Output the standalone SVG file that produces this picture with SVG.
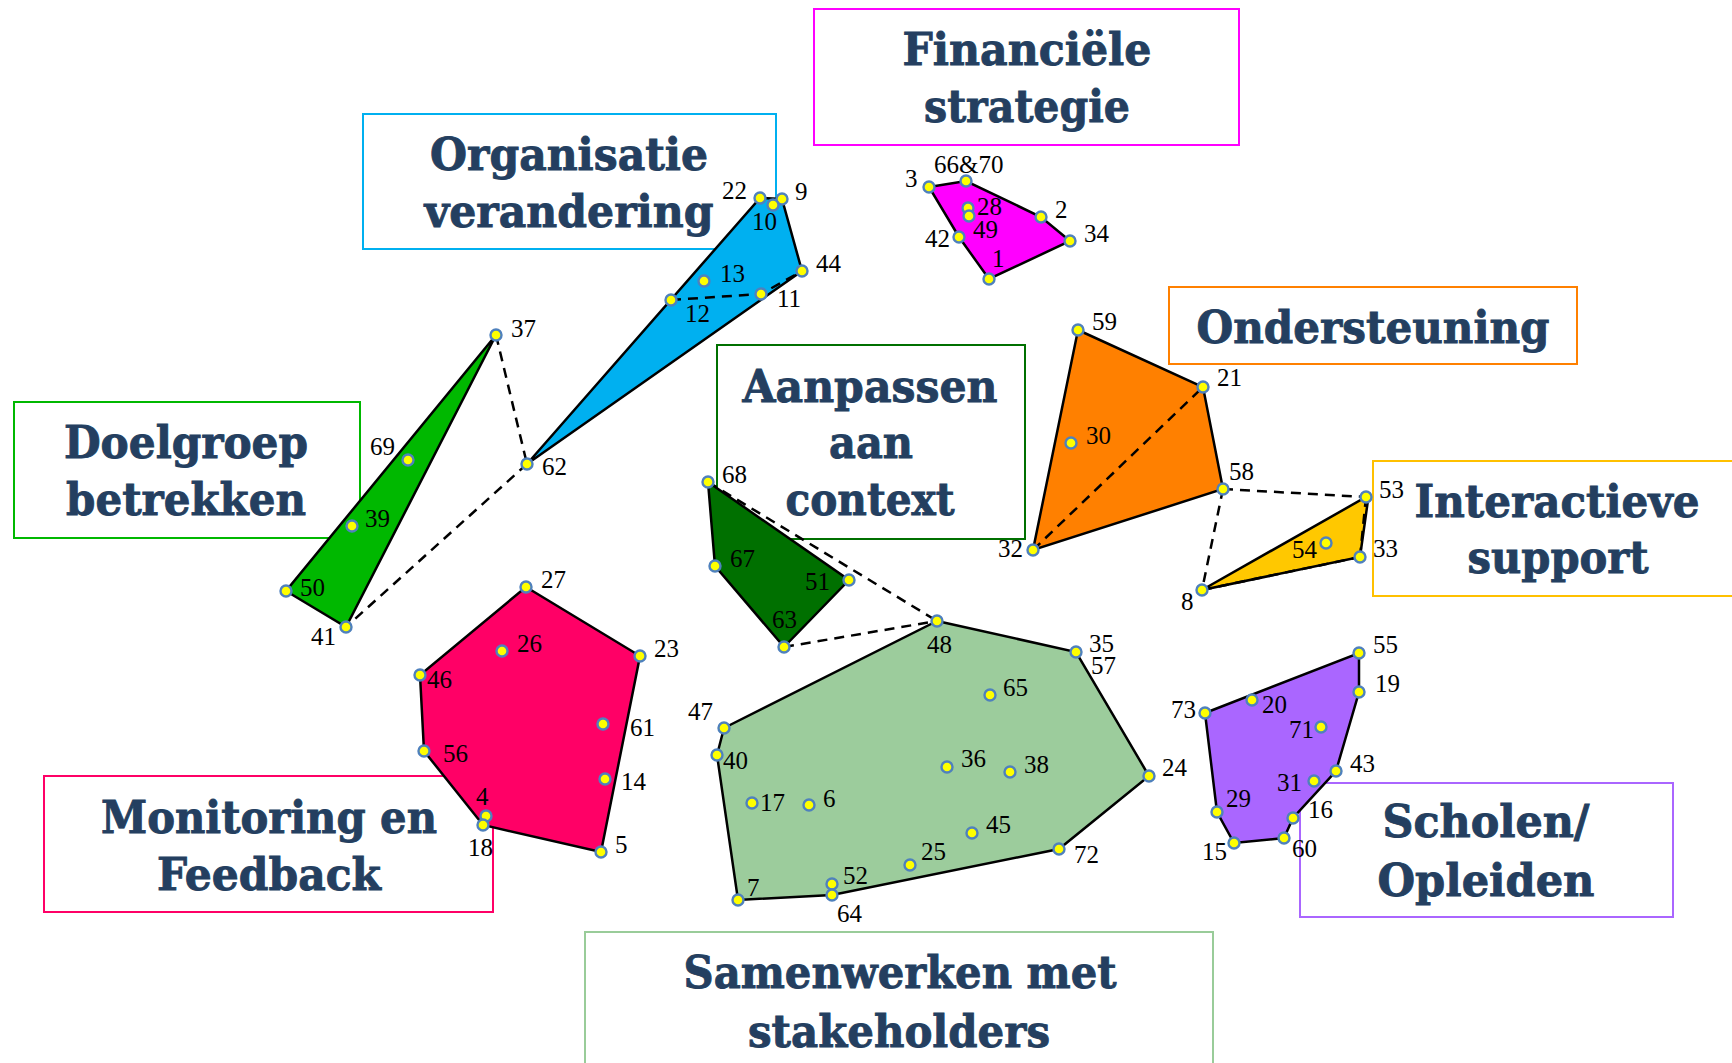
<svg xmlns="http://www.w3.org/2000/svg" width="1732" height="1063" viewBox="0 0 1732 1063">
<style>
.box{fill:#fff;stroke-width:2}
.t{font-family:"DejaVu Serif",serif;font-weight:bold;font-size:44px;fill:#243F60;stroke:#243F60;stroke-width:0.9;text-anchor:middle}
.poly{stroke:#000;stroke-width:2.5;stroke-linejoin:miter}
.dash{stroke:#000;stroke-width:2.5;stroke-dasharray:10 7;fill:none}
.p{fill:#FFFF00;stroke:#4F81BD;stroke-width:2.4}
.n{font-family:"Liberation Serif","Times New Roman",serif;font-size:25px;fill:#000}
</style>
<rect width="1732" height="1063" fill="#fff"/>
<g id="box-organisatie"><rect class="box" x="363" y="114" width="413" height="135" stroke="#00B0F0"/><text class="t" x="569" y="170" textLength="278" lengthAdjust="spacingAndGlyphs">Organisatie</text><text class="t" x="569" y="227" textLength="289" lengthAdjust="spacingAndGlyphs">verandering</text></g>
<g id="box-financiele"><rect class="box" x="814" y="9" width="425" height="136" stroke="#FF00FF"/><text class="t" x="1027" y="65" textLength="249" lengthAdjust="spacingAndGlyphs">Financiële</text><text class="t" x="1027" y="122" textLength="206" lengthAdjust="spacingAndGlyphs">strategie</text></g>
<g id="box-doelgroep"><rect class="box" x="14" y="402" width="346" height="136" stroke="#00B800"/><text class="t" x="186" y="458" textLength="244" lengthAdjust="spacingAndGlyphs">Doelgroep</text><text class="t" x="186" y="515" textLength="240" lengthAdjust="spacingAndGlyphs">betrekken</text></g>
<g id="box-aanpassen"><rect class="box" x="717" y="345" width="308" height="194" stroke="#007000"/><text class="t" x="870" y="402" textLength="255" lengthAdjust="spacingAndGlyphs">Aanpassen</text><text class="t" x="871" y="458" textLength="84" lengthAdjust="spacingAndGlyphs">aan</text><text class="t" x="870" y="515" textLength="169" lengthAdjust="spacingAndGlyphs">context</text></g>
<g id="box-ondersteuning"><rect class="box" x="1169" y="287" width="408" height="77" stroke="#FF8000"/><text class="t" x="1373" y="343" textLength="353" lengthAdjust="spacingAndGlyphs">Ondersteuning</text></g>
<g id="box-interactieve"><rect class="box" x="1373" y="461" width="370" height="135" stroke="#FFC000"/><text class="t" x="1557" y="517" textLength="285" lengthAdjust="spacingAndGlyphs">Interactieve</text><text class="t" x="1558" y="573" textLength="181" lengthAdjust="spacingAndGlyphs">support</text></g>
<g id="box-monitoring"><rect class="box" x="44" y="776" width="449" height="136" stroke="#FF0066"/><text class="t" x="269" y="833" textLength="336" lengthAdjust="spacingAndGlyphs">Monitoring en</text><text class="t" x="269" y="890" textLength="224" lengthAdjust="spacingAndGlyphs">Feedback</text></g>
<g id="box-scholen"><rect class="box" x="1300" y="783" width="373" height="134" stroke="#AA66FF"/><text class="t" x="1486" y="837" textLength="207" lengthAdjust="spacingAndGlyphs">Scholen/</text><text class="t" x="1486" y="896" textLength="217" lengthAdjust="spacingAndGlyphs">Opleiden</text></g>
<g id="box-samenwerken"><rect class="box" x="585" y="932" width="628" height="140" stroke="#99CC99"/><text class="t" x="900" y="988" textLength="433" lengthAdjust="spacingAndGlyphs">Samenwerken met</text><text class="t" x="899" y="1047" textLength="302" lengthAdjust="spacingAndGlyphs">stakeholders</text></g>

<g id="cluster-blue"><polygon class="poly" fill="#00B0F0" points="527,464 760,198 782,199 802,271"/></g>
<g id="cluster-green"><polygon class="poly" fill="#00B800" points="496,335 346,627 286,591"/></g>
<g id="cluster-magenta"><polygon class="poly" fill="#FF00FF" points="929,187 966,181 1041,217 1070,241 989,279 959,237"/></g>
<g id="cluster-darkgreen"><polygon class="poly" fill="#007000" points="708,482 849,580 784,647 715,566"/></g>
<g id="cluster-orange"><polygon class="poly" fill="#FF8000" points="1078,330 1203,387 1223,489 1033,550"/></g>
<g id="cluster-yellow"><polygon class="poly" fill="#FFC800" points="1202,590 1366,497 1368,500 1360,557"/></g>
<g id="cluster-pink"><polygon class="poly" fill="#FF0066" points="526,587 640,656 601,852 483,825 424,751 420,675"/></g>
<g id="cluster-lightgreen"><polygon class="poly" fill="#9CCC9C" points="937,621 1076,652 1149,776 1059,849 832,895 738,900 717,755 724,728"/></g>
<g id="cluster-purple"><polygon class="poly" fill="#AA66FF" points="1205,713 1359,653 1359,692 1336,771 1293,818 1284,838 1234,843 1217,812"/></g>

<g id="connectors">
<polyline class="dash" points="671,300 761,294 802,271"/>
<line class="dash" x1="496" y1="335" x2="527" y2="464"/>
<line class="dash" x1="527" y1="464" x2="346" y2="627"/>
<line class="dash" x1="708" y1="482" x2="937" y2="621"/>
<line class="dash" x1="784" y1="647" x2="937" y2="621"/>
<line class="dash" x1="1033" y1="550" x2="1203" y2="387"/>
<line class="dash" x1="1223" y1="489" x2="1366" y2="497"/>
<line class="dash" x1="1223" y1="489" x2="1202" y2="590"/>
<line class="dash" x1="1202" y1="590" x2="1360" y2="557"/>
<line class="dash" x1="1366" y1="497" x2="1360" y2="557"/>
</g>

<g id="points">
<circle class="p" cx="760" cy="198" r="5.5"/><circle class="p" cx="782" cy="199" r="5.5"/><circle class="p" cx="773" cy="205" r="5.5"/><circle class="p" cx="802" cy="271" r="5.5"/><circle class="p" cx="704" cy="281" r="5.5"/><circle class="p" cx="671" cy="300" r="5.5"/><circle class="p" cx="761" cy="294" r="5.5"/><circle class="p" cx="527" cy="464" r="5.5"/>
<circle class="p" cx="496" cy="335" r="5.5"/><circle class="p" cx="408" cy="460" r="5.5"/><circle class="p" cx="352" cy="526" r="5.5"/><circle class="p" cx="286" cy="591" r="5.5"/><circle class="p" cx="346" cy="627" r="5.5"/>
<circle class="p" cx="929" cy="187" r="5.5"/><circle class="p" cx="966" cy="181" r="5.5"/><circle class="p" cx="968" cy="208" r="5.5"/><circle class="p" cx="969" cy="216" r="5.5"/><circle class="p" cx="1041" cy="217" r="5.5"/><circle class="p" cx="1070" cy="241" r="5.5"/><circle class="p" cx="959" cy="237" r="5.5"/><circle class="p" cx="989" cy="279" r="5.5"/>
<circle class="p" cx="708" cy="482" r="5.5"/><circle class="p" cx="715" cy="566" r="5.5"/><circle class="p" cx="849" cy="580" r="5.5"/><circle class="p" cx="784" cy="647" r="5.5"/>
<circle class="p" cx="1078" cy="330" r="5.5"/><circle class="p" cx="1203" cy="387" r="5.5"/><circle class="p" cx="1071" cy="443" r="5.5"/><circle class="p" cx="1223" cy="489" r="5.5"/><circle class="p" cx="1033" cy="550" r="5.5"/>
<circle class="p" cx="1366" cy="497" r="5.5"/><circle class="p" cx="1360" cy="557" r="5.5"/><circle class="p" cx="1326" cy="543" r="5.5"/><circle class="p" cx="1202" cy="590" r="5.5"/>
<circle class="p" cx="526" cy="587" r="5.5"/><circle class="p" cx="502" cy="651" r="5.5"/><circle class="p" cx="640" cy="656" r="5.5"/><circle class="p" cx="420" cy="675" r="5.5"/><circle class="p" cx="603" cy="724" r="5.5"/><circle class="p" cx="424" cy="751" r="5.5"/><circle class="p" cx="605" cy="779" r="5.5"/><circle class="p" cx="486" cy="816" r="5.5"/><circle class="p" cx="483" cy="825" r="5.5"/><circle class="p" cx="601" cy="852" r="5.5"/>
<circle class="p" cx="937" cy="621" r="5.5"/><circle class="p" cx="1076" cy="652" r="5.5"/><circle class="p" cx="990" cy="695" r="5.5"/><circle class="p" cx="724" cy="728" r="5.5"/><circle class="p" cx="717" cy="755" r="5.5"/><circle class="p" cx="947" cy="767" r="5.5"/><circle class="p" cx="1010" cy="772" r="5.5"/><circle class="p" cx="1149" cy="776" r="5.5"/><circle class="p" cx="752" cy="803" r="5.5"/><circle class="p" cx="809" cy="805" r="5.5"/><circle class="p" cx="972" cy="833" r="5.5"/><circle class="p" cx="1059" cy="849" r="5.5"/><circle class="p" cx="910" cy="865" r="5.5"/><circle class="p" cx="832" cy="884" r="5.5"/><circle class="p" cx="832" cy="895" r="5.5"/><circle class="p" cx="738" cy="900" r="5.5"/>
<circle class="p" cx="1359" cy="653" r="5.5"/><circle class="p" cx="1359" cy="692" r="5.5"/><circle class="p" cx="1205" cy="713" r="5.5"/><circle class="p" cx="1252" cy="700" r="5.5"/><circle class="p" cx="1321" cy="727" r="5.5"/><circle class="p" cx="1336" cy="771" r="5.5"/><circle class="p" cx="1314" cy="781" r="5.5"/><circle class="p" cx="1217" cy="812" r="5.5"/><circle class="p" cx="1293" cy="818" r="5.5"/><circle class="p" cx="1234" cy="843" r="5.5"/><circle class="p" cx="1284" cy="838" r="5.5"/>
</g>

<g id="labels" class="n">
<text class="n" x="722" y="199">22</text><text class="n" x="752" y="230">10</text><text class="n" x="795" y="200">9</text><text class="n" x="816" y="272">44</text><text class="n" x="720" y="282">13</text><text class="n" x="685" y="322">12</text><text class="n" x="777" y="307">11</text><text class="n" x="511" y="337">37</text><text class="n" x="542" y="475">62</text><text class="n" x="370" y="455">69</text><text class="n" x="365" y="527">39</text><text class="n" x="300" y="596">50</text><text class="n" x="311" y="645">41</text>
<text class="n" x="905" y="187">3</text><text class="n" x="934" y="173">66&amp;70</text><text class="n" x="977" y="215">28</text><text class="n" x="973" y="238">49</text><text class="n" x="1055" y="218">2</text><text class="n" x="1084" y="242">34</text><text class="n" x="925" y="247">42</text><text class="n" x="992" y="267">1</text>
<text class="n" x="722" y="483">68</text><text class="n" x="730" y="567">67</text><text class="n" x="805" y="590">51</text><text class="n" x="772" y="628">63</text><text class="n" x="927" y="653">48</text><text class="n" x="1086" y="444">30</text><text class="n" x="998" y="557">32</text><text class="n" x="1089" y="652">35</text><text class="n" x="1091" y="674">57</text>
<text class="n" x="1092" y="330">59</text><text class="n" x="1217" y="386">21</text><text class="n" x="1229" y="480">58</text><text class="n" x="1379" y="498">53</text><text class="n" x="1373" y="557">33</text><text class="n" x="1292" y="558">54</text><text class="n" x="1181" y="610">8</text>
<text class="n" x="541" y="588">27</text><text class="n" x="517" y="652">26</text><text class="n" x="654" y="657">23</text><text class="n" x="427" y="688">46</text><text class="n" x="630" y="736">61</text><text class="n" x="443" y="762">56</text><text class="n" x="621" y="790">14</text><text class="n" x="476" y="805">4</text><text class="n" x="468" y="856">18</text><text class="n" x="615" y="853">5</text><text class="n" x="688" y="720">47</text><text class="n" x="723" y="769">40</text>
<text class="n" x="1003" y="696">65</text><text class="n" x="961" y="767">36</text><text class="n" x="1024" y="773">38</text><text class="n" x="1162" y="776">24</text><text class="n" x="760" y="811">17</text><text class="n" x="823" y="807">6</text><text class="n" x="986" y="833">45</text><text class="n" x="1074" y="863">72</text><text class="n" x="921" y="860">25</text><text class="n" x="843" y="884">52</text><text class="n" x="747" y="896">7</text><text class="n" x="837" y="922">64</text>
<text class="n" x="1373" y="653">55</text><text class="n" x="1375" y="692">19</text><text class="n" x="1171" y="718">73</text><text class="n" x="1262" y="713">20</text><text class="n" x="1289" y="738">71</text><text class="n" x="1350" y="772">43</text><text class="n" x="1277" y="791">31</text><text class="n" x="1226" y="807">29</text><text class="n" x="1308" y="818">16</text><text class="n" x="1202" y="860">15</text><text class="n" x="1292" y="857">60</text>
</g>
</svg>
